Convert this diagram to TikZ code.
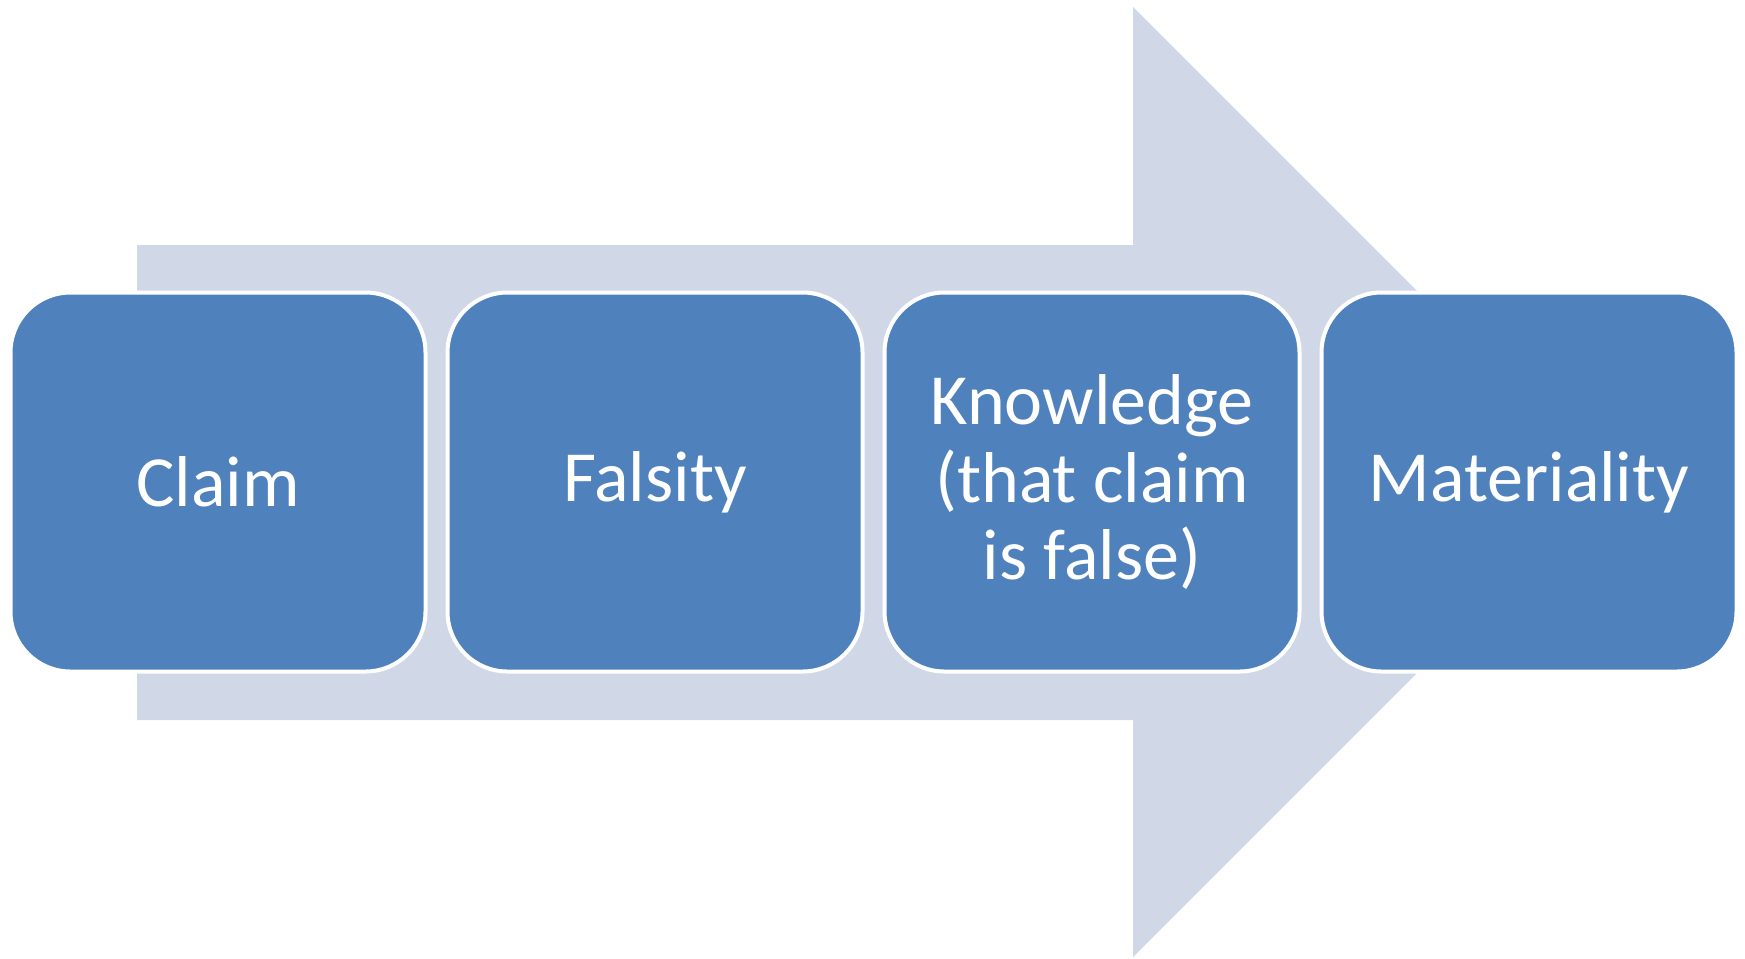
\documentclass[tikz,border=0pt]{standalone}
\usepackage{fontspec}
\setmainfont{Carlito}
\definecolor{arrowfill}{HTML}{D0D8E8}
\definecolor{boxfill}{HTML}{4F81BD}
\begin{document}
\begin{tikzpicture}[x=0.75pt,y=-0.75pt,
  stepbox/.style={rectangle, rounded corners=45pt, fill=boxfill, draw=white, line width=3pt,
    minimum width=415*0.75pt, minimum height=379*0.75pt, inner sep=0pt,
    text=white, align=center, font=\fontsize{54}{58}\selectfont}]
\useasboundingbox (0,0) rectangle (1745,958);
\fill[arrowfill] (137,245) -- (1133,245) -- (1133,7) -- (1608,482) -- (1133,957) -- (1133,720) -- (137,720) -- cycle;
\node[stepbox] (claim) at (218,482) {Claim};
\node[stepbox] (falsity) at (655,482) {Falsity};
\node[stepbox] (knowledge) at (1092,482) {Knowledge\\(that claim\\is false)};
\node[stepbox] (materiality) at (1529,482) {Materiality};
\end{tikzpicture}
\end{document}
